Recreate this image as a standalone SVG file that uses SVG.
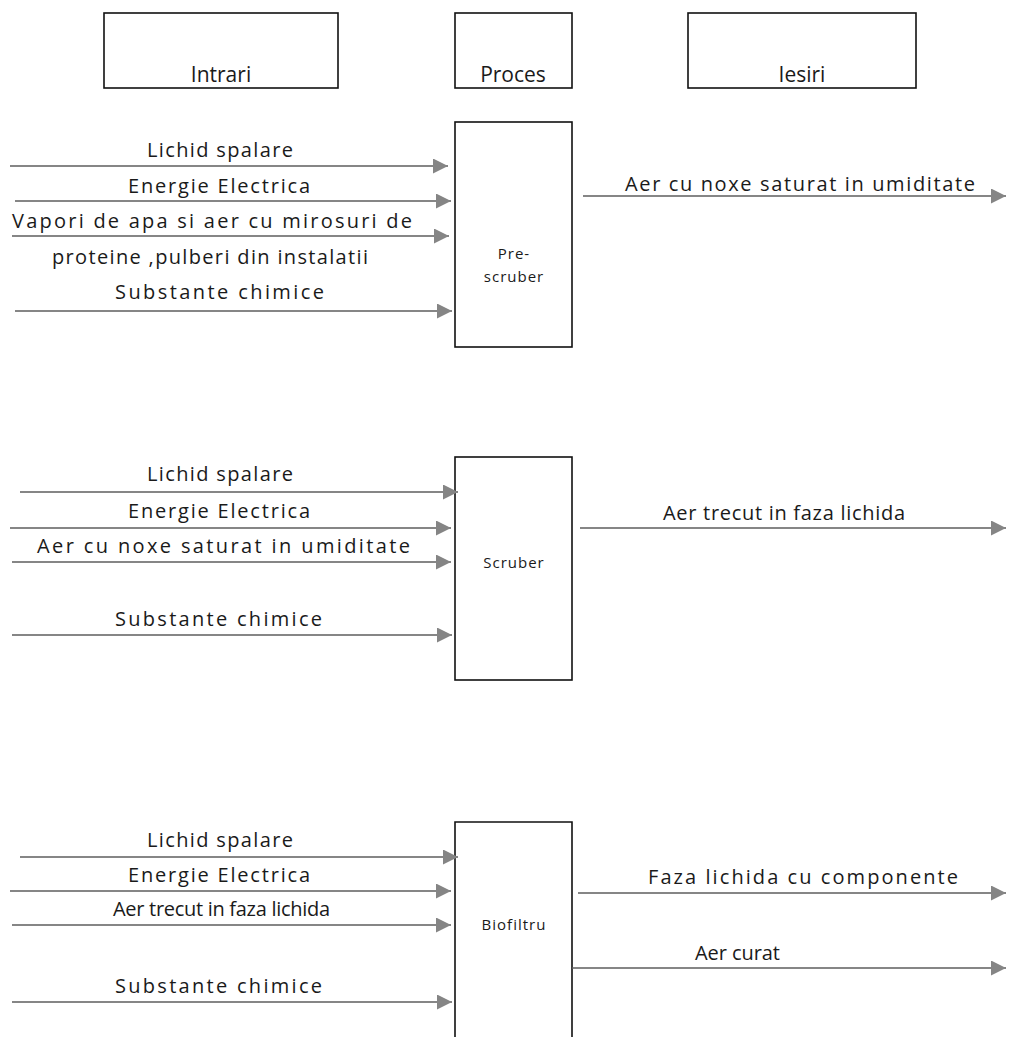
<svg xmlns="http://www.w3.org/2000/svg" width="1009" height="1037" viewBox="0 0 1009 1037">
<style>
.box{fill:#fff;stroke:#111;stroke-width:1.6}
.lbl{font-family:"Open Sans","Liberation Sans",Arial,sans-serif;font-size:20px;fill:#1a1a1a}
.hd{font-family:"Open Sans","Liberation Sans",Arial,sans-serif;font-size:21px;fill:#1a1a1a}
.small{font-family:"Open Sans","Liberation Sans",Arial,sans-serif;font-size:15px;fill:#1a1a1a;letter-spacing:1px}
.ln{stroke:#5e5e5e;stroke-width:1.6;fill:none;marker-end:url(#ah)}
</style>
<defs>
<marker id="ah" viewBox="0 0 10 10" refX="10" refY="5" markerWidth="15" markerHeight="15" markerUnits="userSpaceOnUse" orient="auto">
<path d="M0,0 L10,5 L0,10 Z" fill="#858585"/>
</marker>
</defs>
<rect width="1009" height="1037" fill="#fff"/>

<g id="hdr-intrari"><rect class="box" x="104" y="13" width="234" height="75"/><text class="hd" x="221" y="82" text-anchor="middle">Intrari</text></g>
<g id="hdr-proces"><rect class="box" x="455" y="13" width="117" height="75"/><text class="hd" x="513" y="82" text-anchor="middle">Proces</text></g>
<g id="hdr-iesiri"><rect class="box" x="688" y="13" width="228" height="75"/><text class="hd" x="802" y="82" text-anchor="middle">Iesiri</text></g>

<g id="prescruber"><rect class="box" x="455" y="122" width="117" height="225"/><text class="small" x="514" y="259" text-anchor="middle">Pre-</text><text class="small" x="514" y="282" text-anchor="middle">scruber</text></g>
<g id="scruber"><rect class="box" x="455" y="457" width="117" height="223"/><text class="small" x="514" y="568" text-anchor="middle">Scruber</text></g>
<g id="biofiltru"><path class="box" d="M455,1037 V822 H572 V1037"/><text class="small" x="514" y="930" text-anchor="middle">Biofiltru</text></g>

<g id="connectors">
<line class="ln" x1="10" y1="166" x2="448" y2="166"/>
<line class="ln" x1="15" y1="201" x2="451" y2="201"/>
<line class="ln" x1="12" y1="236" x2="449" y2="236"/>
<line class="ln" x1="15" y1="311" x2="452" y2="311"/>
<line class="ln" x1="583" y1="196" x2="1006" y2="196"/>

<line class="ln" x1="20" y1="492" x2="458" y2="492"/>
<line class="ln" x1="10" y1="528" x2="451" y2="528"/>
<line class="ln" x1="12" y1="562" x2="451" y2="562"/>
<line class="ln" x1="12" y1="635" x2="452" y2="635"/>
<line class="ln" x1="580" y1="528" x2="1006" y2="528"/>

<line class="ln" x1="20" y1="857" x2="458" y2="857"/>
<line class="ln" x1="10" y1="891" x2="451" y2="891"/>
<line class="ln" x1="12" y1="925" x2="451" y2="925"/>
<line class="ln" x1="12" y1="1002" x2="452" y2="1002"/>
<line class="ln" x1="578" y1="893" x2="1006" y2="893"/>
<line class="ln" x1="572" y1="968" x2="1006" y2="968"/>
</g>

<g id="labels">
<text class="lbl" x="147" y="157" textLength="146">Lichid spalare</text>
<text class="lbl" x="128" y="193" textLength="182">Energie Electrica</text>
<text class="lbl" x="12" y="228" textLength="400">Vapori de apa si aer cu mirosuri de</text>
<text class="lbl" x="52" y="264" textLength="316">proteine ,pulberi din instalatii</text>
<text class="lbl" x="115" y="299" textLength="209">Substante chimice</text>
<text class="lbl" x="625" y="191" textLength="350">Aer cu noxe saturat in umiditate</text>

<text class="lbl" x="147" y="481" textLength="146">Lichid spalare</text>
<text class="lbl" x="128" y="518" textLength="182">Energie Electrica</text>
<text class="lbl" x="37" y="553" textLength="373">Aer  cu noxe saturat in umiditate</text>
<text class="lbl" x="115" y="626" textLength="207">Substante chimice</text>
<text class="lbl" x="663" y="520" textLength="242">Aer trecut in faza lichida</text>

<text class="lbl" x="147" y="847" textLength="146">Lichid spalare</text>
<text class="lbl" x="128" y="882" textLength="182">Energie Electrica</text>
<text class="lbl" x="113" y="916" textLength="217">Aer trecut in faza lichida</text>
<text class="lbl" x="115" y="993" textLength="207">Substante chimice</text>
<text class="lbl" x="648" y="884" textLength="310">Faza lichida cu componente</text>
<text class="lbl" x="695" y="960" textLength="85">Aer curat</text>
</g>
</svg>
